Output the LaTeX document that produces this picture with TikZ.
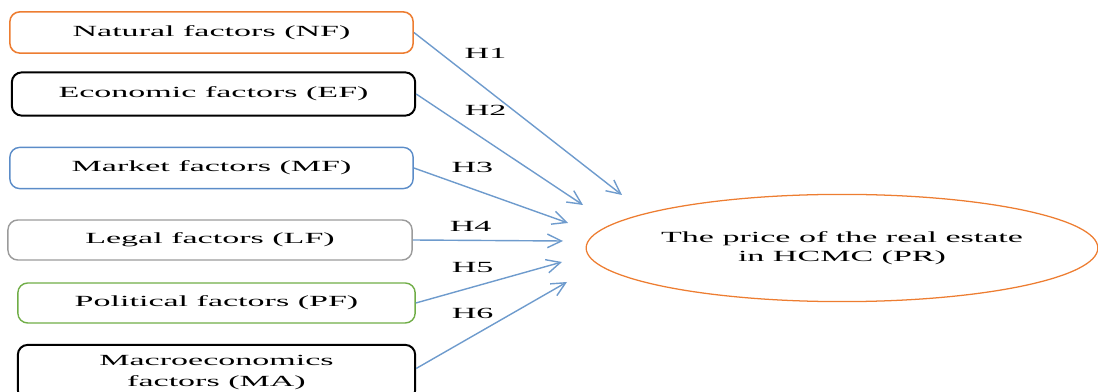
\documentclass[tikz,border=0pt]{standalone}
\usepackage{fontspec}
\setmainfont{Liberation Serif}[FakeStretch=2.2]
\usetikzlibrary{arrows.meta,shapes.geometric}

\definecolor{nforange}{RGB}{237,125,49}
\definecolor{mfblue}{RGB}{91,140,200}
\definecolor{lfgray}{RGB}{155,155,155}
\definecolor{pfgreen}{RGB}{112,173,71}
\definecolor{arrowblue}{RGB}{110,155,205}

\begin{document}
\begin{tikzpicture}[x=0.025cm,y=-0.025cm]
\clip (0,0) rectangle (1098,392);
\useasboundingbox (0,0) rectangle (1098,392);

\begin{scope}[every node/.style={rectangle,rounded corners=7pt,draw,line width=1pt,
              inner sep=0pt,align=center,font=\fontsize{11}{15.5}\selectfont}]
    \node[draw=nforange,line width=1.1pt,minimum width=10.08cm,minimum height=1.03cm] (NF) at (211.5,32.5) {Natural factors (NF)};
    \node[line width=1.4pt,minimum width=10.08cm,minimum height=1.08cm] (EF) at (213.5,94) {Economic factors (EF)};
    \node[draw=mfblue,minimum width=10.08cm,minimum height=1.03cm] (MF) at (211.5,168) {Market factors (MF)};
    \node[draw=lfgray,minimum width=10.1cm,minimum height=1.0cm] (LF) at (210,240) {Legal factors (LF)};
    \node[draw=pfgreen,minimum width=9.93cm,minimum height=1.0cm] (PF) at (216.5,303) {Political factors (PF)};
    \node[line width=1.4pt,minimum width=9.93cm,minimum height=1.38cm] (MA) at (216.5,372.5) {Macroeconomics\\factors (MA)};
\end{scope}

\node[ellipse,draw=nforange,line width=0.9pt,minimum width=12.75cm,minimum height=2.68cm,
      inner sep=0pt,align=center,font=\fontsize{11}{13.5}\selectfont] (PR) at (842,248)
      {The price of the real estate\\in HCMC (PR)};

% free ends of the arrows
\coordinate (t1) at (622,195);
\coordinate (t2) at (583,205);
\coordinate (t3) at (568,223);
\coordinate (t4) at (563,241);
\coordinate (t5) at (562,262);
\coordinate (t6) at (567,282);

\begin{scope}[>={Straight Barb[length=3.5mm,width=3.4mm]},
              every node/.style={font=\fontsize{11}{13}\selectfont,inner sep=0pt},
              every edge/.style={draw=arrowblue,line width=1pt}]
    \path [->] (NF.east) edge node[pos=0.344,yshift=0.875cm] {H1} (t1);
    \path [->] (EF.east) edge node[pos=0.417,yshift=0.74cm] {H2} (t2);
    \path [->] (MF.east) edge node[pos=0.38,yshift=0.53cm] {H3} (t3);
    \path [->] (LF.east) edge node[pos=0.385,yshift=0.35cm] {H4} (t4);
    \path [->] (PF.east) edge node[pos=0.388,yshift=0.5cm] {H5} (t5);
    \path [->] ([yshift=0.1cm]MA.east) edge node[pos=0.375,yshift=0.57cm] {H6} (t6);
\end{scope}
\end{tikzpicture}
\end{document}
